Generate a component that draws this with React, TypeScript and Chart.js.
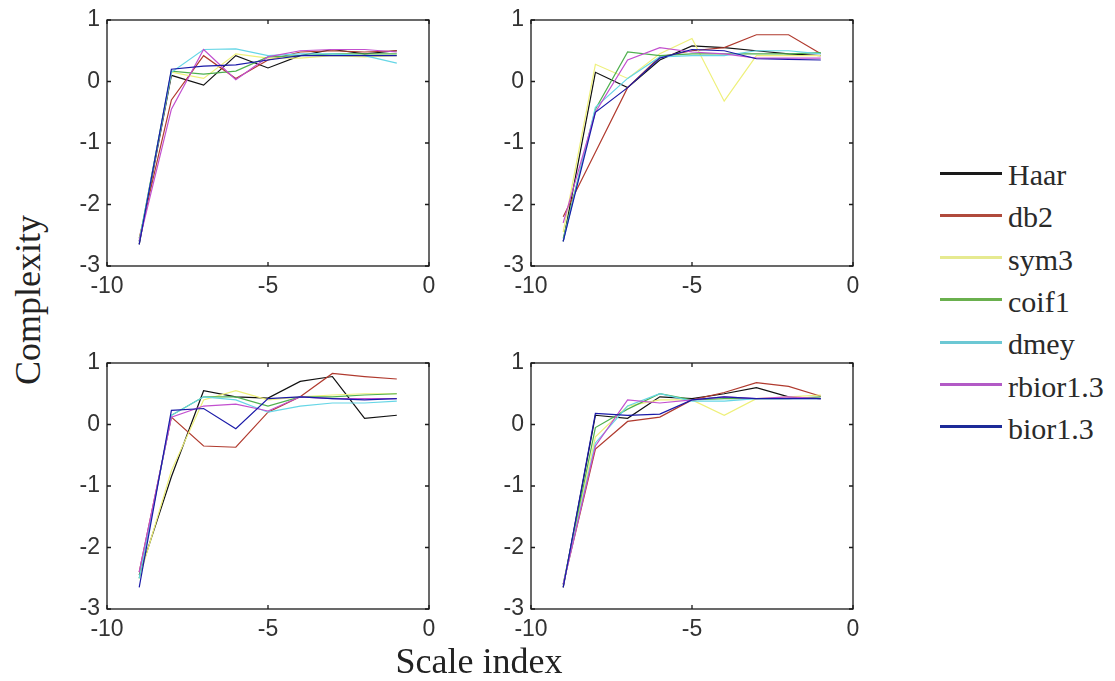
import React, { useEffect, useRef } from 'react';
import { Chart, registerables } from 'chart.js';

Chart.register(...registerables);

// ---------- data ----------
const scaleIndex = [-9, -8, -7, -6, -5, -4, -3, -2, -1];
const seriesNames = ['Haar', 'db2', 'sym3', 'coif1', 'dmey', 'rbior1.3', 'bior1.3'];
const xTickValues = [-10, -5, 0];
const yTickValues = [-3, -2, -1, 0, 1];

// panel 1 (top-left)
const p1Haar = [-2.65, 0.1, -0.06, 0.42, 0.22, 0.42, 0.52, 0.45, 0.5];
const p1Db2 = [-2.55, -0.3, 0.42, 0.05, 0.35, 0.48, 0.5, 0.48, 0.5];
const p1Sym3 = [-2.6, 0.15, 0.05, 0.45, 0.38, 0.38, 0.42, 0.4, 0.42];
const p1Coif1 = [-2.6, 0.17, 0.12, 0.17, 0.4, 0.42, 0.45, 0.45, 0.45];
const p1Dmey = [-2.6, 0.15, 0.52, 0.53, 0.42, 0.45, 0.45, 0.42, 0.3];
const p1Rbior = [-2.6, -0.45, 0.52, 0.03, 0.4, 0.5, 0.52, 0.52, 0.48];
const p1Bior = [-2.65, 0.2, 0.25, 0.27, 0.35, 0.42, 0.42, 0.42, 0.42];

// panel 2 (top-right)
const p2Haar = [-2.6, 0.15, -0.1, 0.35, 0.58, 0.55, 0.5, 0.45, 0.42];
const p2Db2 = [-2.2, -1.15, -0.1, 0.4, 0.5, 0.55, 0.76, 0.76, 0.45];
const p2Sym3 = [-2.45, 0.28, 0.05, 0.45, 0.7, -0.32, 0.42, 0.42, 0.42];
const p2Coif1 = [-2.55, -0.45, 0.48, 0.42, 0.45, 0.45, 0.45, 0.45, 0.47];
const p2Dmey = [-2.6, -0.42, 0.05, 0.4, 0.42, 0.42, 0.5, 0.5, 0.45];
const p2Rbior = [-2.3, -0.5, 0.35, 0.55, 0.48, 0.45, 0.38, 0.38, 0.38];
const p2Bior = [-2.6, -0.5, -0.1, 0.38, 0.52, 0.5, 0.37, 0.36, 0.35];

// panel 3 (bottom-left)
const p3Haar = [-2.45, -0.85, 0.55, 0.45, 0.43, 0.7, 0.78, 0.1, 0.15];
const p3Db2 = [-2.4, 0.12, -0.35, -0.37, 0.2, 0.45, 0.83, 0.78, 0.74];
const p3Sym3 = [-2.5, -0.75, 0.4, 0.55, 0.4, 0.45, 0.48, 0.5, 0.5];
const p3Coif1 = [-2.5, 0.15, 0.45, 0.45, 0.3, 0.45, 0.45, 0.48, 0.5];
const p3Dmey = [-2.5, 0.15, 0.45, 0.4, 0.2, 0.3, 0.35, 0.35, 0.38];
const p3Rbior = [-2.4, 0.12, 0.3, 0.33, 0.22, 0.45, 0.42, 0.42, 0.42];
const p3Bior = [-2.65, 0.23, 0.26, -0.07, 0.42, 0.45, 0.42, 0.4, 0.42];

// panel 4 (bottom-right)
const p4Haar = [-2.65, 0.15, 0.1, 0.45, 0.42, 0.5, 0.6, 0.45, 0.42];
const p4Db2 = [-2.6, -0.4, 0.05, 0.12, 0.4, 0.52, 0.68, 0.62, 0.46];
const p4Sym3 = [-2.6, -0.2, 0.3, 0.4, 0.4, 0.15, 0.42, 0.45, 0.48];
const p4Coif1 = [-2.6, -0.05, 0.25, 0.5, 0.4, 0.42, 0.42, 0.42, 0.45];
const p4Dmey = [-2.6, -0.3, 0.3, 0.5, 0.38, 0.38, 0.42, 0.42, 0.42];
const p4Rbior = [-2.6, -0.35, 0.4, 0.35, 0.4, 0.45, 0.42, 0.45, 0.42];
const p4Bior = [-2.65, 0.18, 0.15, 0.17, 0.4, 0.45, 0.42, 0.42, 0.42];

const panelSeries = [
  [p1Haar, p1Db2, p1Sym3, p1Coif1, p1Dmey, p1Rbior, p1Bior],
  [p2Haar, p2Db2, p2Sym3, p2Coif1, p2Dmey, p2Rbior, p2Bior],
  [p3Haar, p3Db2, p3Sym3, p3Coif1, p3Dmey, p3Rbior, p3Bior],
  [p4Haar, p4Db2, p4Sym3, p4Coif1, p4Dmey, p4Rbior, p4Bior],
];

// ---------- styles ----------
const lineColors = ['#111111', '#b03a2e', '#eef07a', '#4fb04f', '#66d6e6', '#c24fcf', '#1a1aa8'];
const legendColors = ['#1a1a1a', '#b04a3c', '#e6ea90', '#6ab04e', '#6cc8d4', '#b25ac6', '#1c2a98'];

// chart area rectangles (page coordinates): left, top, right, bottom
const panelAreas = [
  [107, 20, 429, 266],
  [531, 20, 853, 266],
  [107, 363, 429, 609],
  [531, 363, 853, 609],
];
const AXIS_W = 50;
const AXIS_H = 34;
const PAD_T = 14;
const PAD_R = 20;

const framePlugin = {
  id: 'matlabFrame',
  afterDatasetsDraw(chart: any) {
    const { ctx, chartArea: a, scales } = chart;
    ctx.save();
    ctx.strokeStyle = '#1a1a1a';
    ctx.lineWidth = 1.3;
    ctx.strokeRect(a.left, a.top, a.right - a.left, a.bottom - a.top);
    const tl = 4;
    ctx.beginPath();
    for (const v of xTickValues) {
      const x = scales.x.getPixelForValue(v);
      ctx.moveTo(x, a.bottom);
      ctx.lineTo(x, a.bottom - tl);
      ctx.moveTo(x, a.top);
      ctx.lineTo(x, a.top + tl);
    }
    for (const v of yTickValues) {
      const y = scales.y.getPixelForValue(v);
      ctx.moveTo(a.left, y);
      ctx.lineTo(a.left + tl, y);
      ctx.moveTo(a.right, y);
      ctx.lineTo(a.right - tl, y);
    }
    ctx.stroke();
    ctx.restore();
  },
};

const tickFont = { family: "'Liberation Sans', Arial, sans-serif", size: 23 };

function Panel({ index }: { index: number }) {
  const ref = useRef<HTMLCanvasElement | null>(null);
  const [l, t, r, b] = panelAreas[index];
  const left = l - AXIS_W;
  const top = t - PAD_T;
  const width = r - l + AXIS_W + PAD_R;
  const height = b - t + PAD_T + AXIS_H;

  useEffect(() => {
    if (!ref.current) return;
    const series = panelSeries[index];
    const chart = new Chart(ref.current, {
      type: 'line',
      data: {
        datasets: series.map((vals, i) => ({
          label: seriesNames[i],
          data: scaleIndex.map((x, k) => ({ x, y: vals[k] })),
          borderColor: lineColors[i],
          backgroundColor: lineColors[i],
          borderWidth: 1.2,
          pointRadius: 0,
          tension: 0,
          fill: false,
          order: seriesNames.length - 1 - i,
        })),
      },
      options: {
        animation: false,
        responsive: false,
        maintainAspectRatio: false,
        events: [],
        layout: { padding: { top: PAD_T, right: PAD_R, left: 0, bottom: 0 } },
        plugins: { legend: { display: false }, tooltip: { enabled: false } },
        scales: {
          x: {
            type: 'linear',
            min: -10,
            max: 0,
            ticks: {
              stepSize: 5,
              autoSkip: false,
              maxRotation: 0,
              minRotation: 0,
              padding: 7,
              color: '#333',
              font: tickFont,
            },
            grid: { display: false, drawTicks: false },
            border: { display: false },
            afterFit(s: any) {
              s.height = AXIS_H;
              s.paddingLeft = 0;
              s.paddingRight = 0;
            },
          },
          y: {
            type: 'linear',
            min: -3,
            max: 1,
            ticks: { stepSize: 1, padding: 7, color: '#333', font: tickFont },
            grid: { display: false, drawTicks: false },
            border: { display: false },
            afterFit(s: any) {
              s.width = AXIS_W;
              s.paddingTop = 0;
              s.paddingBottom = 0;
            },
          },
        },
      },
      plugins: [framePlugin],
    } as any);
    return () => chart.destroy();
  }, [index]);

  return (
    <canvas
      ref={ref}
      width={width}
      height={height}
      style={{ position: 'absolute', left, top, width, height }}
    />
  );
}

const legendTop = 173;
const legendStep = 42.3;

export default function App() {
  return (
    <div
      style={{
        position: 'absolute',
        left: 0,
        top: 0,
        width: 1115,
        height: 681,
        background: '#ffffff',
        overflow: 'hidden',
      }}
    >
      {panelAreas.map((_, i) => (
        <Panel key={i} index={i} />
      ))}
      <div
        style={{
          position: 'absolute',
          left: 28,
          top: 300,
          transform: 'translate(-50%, -50%) rotate(-90deg)',
          font: "36px 'Liberation Serif', 'Times New Roman', serif",
          lineHeight: 1,
          whiteSpace: 'nowrap',
          color: '#222',
        }}
      >
        Complexity
      </div>
      <div
        style={{
          position: 'absolute',
          left: 479,
          top: 661,
          transform: 'translate(-50%, -50%)',
          font: "36px 'Liberation Serif', 'Times New Roman', serif",
          lineHeight: 1,
          whiteSpace: 'nowrap',
          color: '#222',
        }}
      >
        Scale index
      </div>
      {seriesNames.map((name, i) => {
        const y = legendTop + legendStep * i;
        return (
          <React.Fragment key={name}>
            <div
              style={{
                position: 'absolute',
                left: 940,
                top: y - 1.5,
                width: 62,
                height: 3,
                background: legendColors[i],
              }}
            />
            <div
              style={{
                position: 'absolute',
                left: 1008,
                top: y + 2,
                transform: 'translateY(-50%)',
                font: "30px 'Liberation Serif', 'Times New Roman', serif",
                lineHeight: 1,
                whiteSpace: 'nowrap',
                color: '#2a2a2a',
              }}
            >
              {name}
            </div>
          </React.Fragment>
        );
      })}
    </div>
  );
}
